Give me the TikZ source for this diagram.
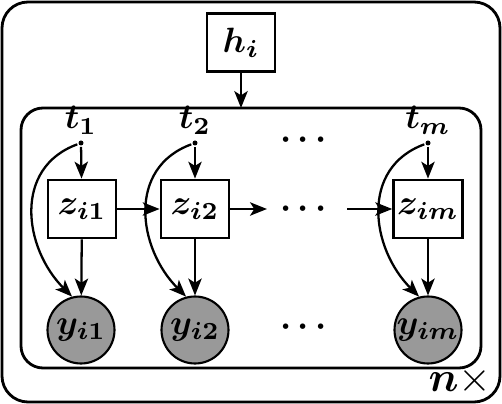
\documentclass[tikz,border=0pt]{standalone}
\usepackage{amsmath,amssymb}
\usepackage{bm}
\usetikzlibrary{positioning, calc, arrows.meta}
\tikzset{every picture/.append style={thick}}
\tikzset{
  latent/.style={draw, minimum width=0.68cm, minimum height=0.58cm, inner sep=1pt},
  observed/.style={draw, circle, fill=black!40, minimum size=0.67cm, inner sep=0pt, semithick},
  tdot/.style={circle, fill=black, inner sep=0pt, minimum size=0.05cm},
  plate/.style={draw, rounded corners=0.22cm},
  edge/.style={->, line width=0.65pt}
}

\begin{document}
\begin{tikzpicture}[thick, every node/.style={font=\boldmath}, >={Stealth[length=4.8pt, width=3.8pt, inset=1.2pt]}]
            \useasboundingbox (0,0) rectangle (5.02,4.04);
            % Plates
            \draw[rounded corners=0.26cm] (0.02,0.02) rectangle (5.00,4.02);
            \draw[plate] (0.21,0.36) rectangle (4.81,2.96);
            \coordinate (Plate) at (2.41,2.96);
            \node[font=\large\unboldmath] (reps) at (4.60,0.23) {$\bm{n}\times$};
            
            % Global latent
            \node[latent] (h) at (2.41,3.615) {$h_i$};
            \draw[edge] (h) -- (Plate);
            
            % Time points
            \node[tdot, label={[inner sep=1pt]above:$t_1$}] (t1) at (0.81,2.61) {};
            \node[tdot, label={[inner sep=1pt]above:$t_2$}] (t2) at (1.95,2.61) {};
            \node[tdot, label={[inner sep=1pt]above:$t_m$}] (tm) at (4.28,2.61) {};
            \node (tdots) at (3.07,2.64) {$\cdots$};
            
            % Hidden states
            \node[latent] (z1) at (0.82,1.95) {$z_{i1}$};
            \node[latent] (z2) at (1.95,1.95) {$z_{i2}$};
            \node[latent] (zm) at (4.28,1.95) {$z_{im}$};
            \node (zdots) at (3.07,1.95) {$\cdots$};
            
            % Observations
            \node[observed] (y1) at (0.81,0.74) {$y_{i1}$};
            \node[observed] (y2) at (1.95,0.74) {$y_{i2}$};
            \node[observed] (ym) at (4.28,0.74) {$y_{im}$};
            \node (ydots) at (3.07,0.77) {$\cdots$};
            
            % Chain
            \draw[edge] (z1) -- (z2);
            \draw[edge] (z2) -- (zdots);
            \draw[edge] (zdots) -- (zm);
            
            % Edges per time point
            \foreach \k in {1,2,m}{
                \draw[edge] (t\k) -- (z\k);
                \draw[edge] (z\k) -- (y\k);
                \draw[edge] (t\k) to[out=200, in=135, looseness=1.15] (y\k.105);
            }
\end{tikzpicture}
\end{document}
